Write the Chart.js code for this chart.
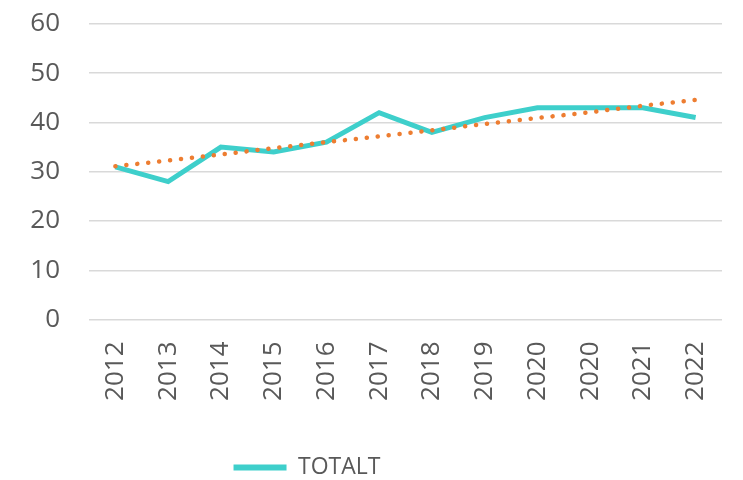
<!DOCTYPE html>
<html>
<head>
<meta charset="utf-8">
<script src="https://cdn.jsdelivr.net/npm/chart.js@4"></script>
<style>
  html, body { margin: 0; padding: 0; background: #ffffff; }
  #wrap { width: 743px; height: 480px; }
</style>
</head>
<body>
<div id="wrap"><canvas id="chart" width="743" height="480"></canvas></div>
<script>
const years = ["2012", "2013", "2014", "2015", "2016", "2017", "2018", "2019", "2020", "2020", "2021", "2022"];
const totalt = [31, 28, 35, 34, 36, 42, 38, 41, 43, 43, 43, 41];
// trend line
const trend = [31.1, 32.3, 33.5, 34.8, 36.0, 37.2, 38.4, 39.7, 40.9, 42.1, 43.4, 44.6];

const teal = "#3ECFCB";
const orange = "#ED7D31";
const grey = "#595959";

Chart.defaults.font.family = "'Open Sans', 'Noto Sans', sans-serif";
Chart.defaults.color = grey;

// the legend sits left of centre and a bit lower in the original
const shiftLegend = {
  id: "shift_legend",
  afterLayout: (chart) => {
    chart.legend.left -= 54;
    chart.legend.right -= 54;
    chart.legend.top += 9;
    chart.legend.bottom += 9;
  }
};

const ctx = document.getElementById("chart").getContext("2d");

new Chart(ctx, {
  type: "line",
  data: {
    labels: years,
    datasets: [
      {
        label: "TOTALT",
        data: totalt,
        borderColor: teal,
        backgroundColor: teal,
        borderWidth: 5,
        pointRadius: 0,
        tension: 0,
        borderJoinStyle: "miter",
        order: 1
      },
      {
        label: "trend",
        data: trend,
        borderColor: orange,
        borderWidth: 4.5,
        borderDash: [0.1, 10.9],
        borderCapStyle: "round",
        pointRadius: 0,
        tension: 0,
        order: 0
      }
    ]
  },
  plugins: [shiftLegend],
  options: {
    responsive: false,
    animation: false,
    layout: { padding: { top: 24, right: 21, left: 0, bottom: 0 } },
    plugins: {
      legend: {
        position: "bottom",
        labels: {
          color: grey,
          font: { size: 23 },
          boxWidth: 53,
          boxHeight: 6,
          padding: 4,
          filter: (item) => item.text === "TOTALT",
          generateLabels: (chart) => {
            const items = Chart.defaults.plugins.legend.labels.generateLabels(chart);
            items.forEach(it => { it.lineWidth = 0; });
            return items;
          }
        }
      },
      tooltip: { enabled: false }
    },
    scales: {
      x: {
        offset: true,
        grid: { display: false, drawTicks: false },
        border: { display: false },
        ticks: {
          color: grey,
          font: { size: 26 },
          minRotation: 90,
          maxRotation: 90,
          padding: 22,
          autoSkip: false
        },
        afterFit: (scale) => {
          scale.paddingLeft = 0;
          scale.paddingRight = 0;
          scale.height = 123.5;
        }
      },
      y: {
        min: 0,
        max: 60,
        grid: { color: "#D9D9D9", lineWidth: 1.5, drawTicks: false },
        border: { display: false },
        ticks: {
          stepSize: 10,
          color: grey,
          font: { size: 26 },
          padding: 29
        },
        afterFit: (scale) => {
          scale.paddingTop = 0;
          scale.paddingBottom = 0;
          scale.width = 89;
        }
      }
    }
  }
});
</script>
</body>
</html>
